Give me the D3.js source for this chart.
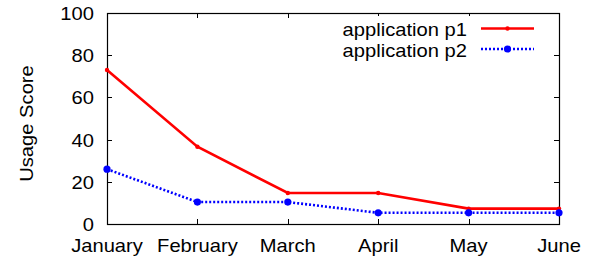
<!DOCTYPE html>
<html>
<head>
<meta charset="utf-8">
<script src="https://cdn.jsdelivr.net/npm/d3@7"></script>
<style>
  body { margin: 0; background: #fff; }
  svg text { font-family: "Liberation Sans", Arial, sans-serif; fill: #000; }
</style>
</head>
<body>
<svg id="chart" width="592" height="257"></svg>
<script>
// Data
const months = ['January', 'February', 'March', 'April', 'May', 'June'];
const p1Values = [73, 36.6, 14.7, 14.7, 7.3, 7.3];
const p2Values = [26, 10.4, 10.4, 5.3, 5.3, 5.3];
const yTicks = [0, 20, 40, 60, 80, 100];

const margin = { top: 13, right: 33, bottom: 33, left: 107 };
const width = 592, height = 257;
const fontSize = 18;
const stretch = 1.12; // gnuplot's font renders a bit wider

const svg = d3.select('#chart');

const x = d3.scalePoint().domain(months).range([margin.left, width - margin.right]);
const y = d3.scaleLinear().domain([0, 100]).range([height - margin.bottom, margin.top]);

// helper: place stretched text
function label(tx, ty, str, anchor, rotate) {
    const rot = rotate ? ` rotate(${rotate})` : '';
    svg.append('text')
        .attr('transform', `translate(${tx},${ty})${rot} scale(${stretch},1)`)
        .attr('text-anchor', anchor)
        .attr('font-size', fontSize)
        .text(str);
}

// Frame
svg.append('rect')
    .attr('x', margin.left + 0.5)
    .attr('y', margin.top + 0.5)
    .attr('width', width - margin.right - margin.left)
    .attr('height', height - margin.bottom - margin.top)
    .attr('fill', 'none')
    .attr('stroke', '#000')
    .attr('stroke-width', 1.2);

// Inward ticks (gnuplot style, mirrored)
const tickLen = 5;
const bottomY = y(0), topY = y(100);
const leftX = x(months[0]), rightX = x(months[months.length - 1]);

months.forEach(m => {
    const xx = Math.round(x(m)) + 0.5;
    svg.append('line').attr('x1', xx).attr('x2', xx)
        .attr('y1', bottomY).attr('y2', bottomY - tickLen).attr('stroke', '#000');
    svg.append('line').attr('x1', xx).attr('x2', xx)
        .attr('y1', topY).attr('y2', topY + tickLen).attr('stroke', '#000');
    label(x(m), bottomY + 28, m, 'middle');
});

yTicks.forEach(t => {
    const yy = Math.round(y(t)) + 0.5;
    svg.append('line').attr('x1', leftX).attr('x2', leftX + tickLen)
        .attr('y1', yy).attr('y2', yy).attr('stroke', '#000');
    svg.append('line').attr('x1', rightX).attr('x2', rightX - tickLen)
        .attr('y1', yy).attr('y2', yy).attr('stroke', '#000');
    label(leftX - 13, y(t) + 7, t, 'end');
});

// Y axis label
label(33, (topY + bottomY) / 2 + 5, 'Usage Score', 'middle', -90);

const line = d3.line().x((d, i) => x(months[i])).y(d => y(d));

// Legend background to cover mirror ticks
svg.append('rect')
    .attr('x', 330).attr('y', 16)
    .attr('width', 220).attr('height', 46)
    .attr('fill', '#fff');

// Series
svg.append('path')
    .datum(p1Values)
    .attr('d', line)
    .attr('fill', 'none')
    .attr('stroke', '#ff0000')
    .attr('stroke-width', 2.6);

svg.selectAll('.p1dot')
    .data(p1Values)
    .enter().append('circle')
    .attr('cx', (d, i) => x(months[i]))
    .attr('cy', d => y(d))
    .attr('r', 2.2)
    .attr('fill', '#ff0000');

svg.append('path')
    .datum(p2Values)
    .attr('d', line)
    .attr('fill', 'none')
    .attr('stroke', '#0000ff')
    .attr('stroke-width', 2.6)
    .attr('stroke-dasharray', '2,2');

svg.selectAll('.p2dot')
    .data(p2Values)
    .enter().append('circle')
    .attr('cx', (d, i) => x(months[i]))
    .attr('cy', d => y(d))
    .attr('r', 3.6)
    .attr('fill', '#0000ff');

// Legend
const legend = [
    { name: 'application p1', color: '#ff0000', dash: null, r: 2.2, y: 28.5 },
    { name: 'application p2', color: '#0000ff', dash: '2,2', r: 3.6, y: 49 }
];
legend.forEach(l => {
    label(467, l.y + 7.5, l.name, 'end');
    svg.append('line')
        .attr('x1', 481).attr('x2', 534)
        .attr('y1', l.y).attr('y2', l.y)
        .attr('stroke', l.color)
        .attr('stroke-width', 2.6)
        .attr('stroke-dasharray', l.dash);
    svg.append('circle')
        .attr('cx', 507.5).attr('cy', l.y)
        .attr('r', l.r)
        .attr('fill', l.color);
});
</script>
</body>
</html>
